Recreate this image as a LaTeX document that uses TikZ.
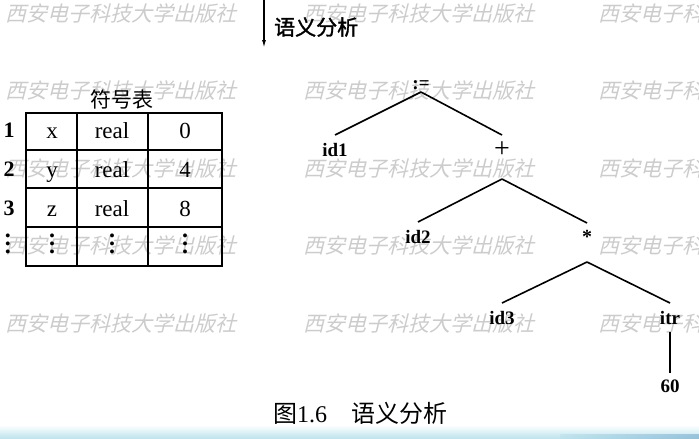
\documentclass[tikz,border=0pt]{standalone}
\usepackage{fontspec}
\setmainfont{Liberation Serif}
\newfontfamily\cjk{Noto Sans CJK SC}
\newfontfamily\cjkbold[FakeBold=1.5]{Noto Sans CJK SC}
\newfontfamily\cjkwm[FakeSlant=0.25]{Noto Sans CJK SC}
\usetikzlibrary{arrows.meta,positioning}
\newcommand\tabdots{\vbox{\baselineskip=8pt\lineskiplimit=0pt\hbox{.}\hbox{.}\hbox{.}}}
\definecolor{wmgray}{gray}{0.8}
\definecolor{bandblue}{RGB}{186,226,236}
\definecolor{banddark}{RGB}{120,170,205}
\tikzset{
  wm/.style={anchor=west,inner sep=0,text=wmgray,font={\cjkwm\fontsize{21}{21}\selectfont}},
  cell/.style={inner sep=0,anchor=base,font={\fontsize{23}{23}\selectfont}},
  dots/.style={inner sep=0,font={\bfseries\fontsize{24}{24}\selectfont}},
  rowno/.style={inner sep=0,anchor=base,font={\bfseries\fontsize{22}{22}\selectfont}},
  tnode/.style={inner sep=0,outer sep=0,anchor=base,text height=21,text depth=4,
    font={\bfseries\fontsize{19}{19}\selectfont}},
  tline/.style={line width=1.6},
}
\begin{document}
\begin{tikzpicture}[x=1pt,y=-1pt,>={Latex[length=8,width=4]}]
	\useasboundingbox (0,0) rectangle (699,439);
	% watermark
	\begin{scope}
		\clip (0,0) rectangle (699,439);
		\foreach \y in {13,90,168,245,323}
			\foreach \x in {5,303,598}
				\node[wm] (wm-\x-\y) at (\x,\y) {西安电子科技大学出版社};
	\end{scope}
	% step arrow
	\coordinate (arrtop) at (264,0);
	\coordinate (arrtip) at (264,48);
	\draw[->,line width=1.4] (arrtop) -- (arrtip);
	\node[anchor=west,inner sep=0,font={\cjkbold\fontsize{21}{21}\selectfont}] (sem) at (274,27) {语义分析};
	% symbol table
	\node[inner sep=0,font={\cjk\fontsize{21}{21}\selectfont}] (tabtitle) at (122,99) {符号表};
	\draw[line width=1.3] (77,113) -- (77,266) (148,113) -- (148,266);
	\draw[line width=1.3] (26,150) -- (222,150) (26,188) -- (222,188) (26,227) -- (222,227);
	\draw[line width=2.4] (26,113) rectangle (222,266);
	\node[rowno] (r1) at (9,137) {1};
	\node[rowno] (r2) at (9,176) {2};
	\node[rowno] (r3) at (9,215) {3};
	\node[dots] (r4) at (8,244) {\tabdots};
	\node[cell] (x) at (52,138) {x};
	\node[cell] (xt) at (112,138) {real};
	\node[cell] (xa) at (185,138) {0};
	\node[cell] (y) at (52,177) {y};
	\node[cell] (yt) at (112,177) {real};
	\node[cell] (ya) at (185,177) {4};
	\node[cell] (z) at (52,216) {z};
	\node[cell] (zt) at (112,216) {real};
	\node[cell] (za) at (185,216) {8};
	\node[dots] (d1) at (52,244) {\tabdots};
	\node[dots] (d2) at (112,244) {\tabdots};
	\node[dots] (d3) at (185,244) {\tabdots};
	% syntax tree
	\node[tnode,text depth=3] (root) at (421,89) {:=};
	\node[tnode] (id1) at (335,156) {id1};
	\node[tnode,text height=22,text depth=22,font={\fontsize{28}{28}\selectfont}] (plus) at (502,157) {+};
	\node[tnode] (id2) at (418,243) {id2};
	\node[tnode,text height=20,text depth=19,font={\bfseries\fontsize{20}{20}\selectfont}] (times) at (587,243) {*};
	\node[tnode] (id3) at (502,324) {id3};
	\node[tnode,text depth=8] (itr) at (670,324) {itr};
	\node[tnode,text height=19] (sixty) at (670,392) {60};
	\draw[tline] (root.south) -- (id1.north);
	\draw[tline] (root.south) -- (plus.north);
	\draw[tline] (plus.south) -- (id2.north);
	\draw[tline] (plus.south) -- (times.north);
	\draw[tline] (times.south) -- (id3.north);
	\draw[tline] (times.south) -- (itr.north);
	\draw[tline] (itr.south) -- (sixty.north);
	% caption
	\node[inner sep=0,font={\fontsize{24}{24}\selectfont}] (caption) at (360,413) {{\cjk 图}1.6\quad{\cjk 语义分析}};
	% band
	\shade[top color=white,bottom color=bandblue] (0,425) rectangle (699,439);
	\shade[left color=bandblue,right color=banddark,opacity=0.6] (560,434) rectangle (699,439);
\end{tikzpicture}
\end{document}
